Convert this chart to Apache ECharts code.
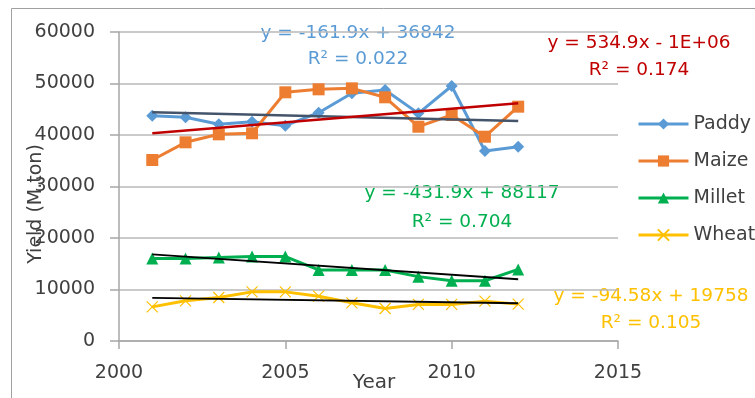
<!DOCTYPE html>
<html>
<head>
<meta charset="utf-8">
<script src="https://cdn.jsdelivr.net/npm/echarts@6/dist/echarts.min.js"></script>
<style>html,body{margin:0;padding:0;background:#fff;overflow:hidden}#c{width:755px;height:398px}</style>
</head>
<body>
<div id="c"></div>
<script>
const years = [2001, 2002, 2003, 2004, 2005, 2006, 2007, 2008, 2009, 2010, 2011, 2012];
const paddy = [43750, 43430, 42070, 42580, 41810, 44330, 48100, 48740, 44200, 49510, 36890, 37730];
const maize = [35150, 38580, 40130, 40330, 48290, 48870, 49060, 47320, 41610, 43880, 39670, 45500];
const millet = [16000, 16000, 16200, 16400, 16400, 13800, 13800, 13800, 12500, 11700, 11700, 13900];
const wheat = [6630, 7800, 8450, 9540, 9540, 8700, 7410, 6320, 7100, 7100, 7740, 7160];
const trendYears = [2001, 2012];
const paddyTrend = [44400, 42720];
const maizeTrend = [40330, 46150];
const milletTrend = [16830, 11990];
const wheatTrend = [8380, 7330];
const seriesNames = ['Paddy', 'Maize', 'Millet', 'Wheat'];
const eqPaddy = ['y = -161.9x + 36842', 'R² = 0.022'];
const eqMaize = ['y = 534.9x - 1E+06', 'R² = 0.174'];
const eqMillet = ['y = -431.9x + 88117', 'R² = 0.704'];
const eqWheat = ['y = -94.58x + 19758', 'R² = 0.105'];

const FONT = 'DejaVu Sans';
const pair = (xs, ys) => xs.map((x, i) => [x, ys[i]]);
const colors = { Paddy: '#5B9BD5', Maize: '#ED7D31', Millet: '#00B050', Wheat: '#FFC000' };

function dataSeries(name, vals, symbol, size) {
  return {
    name, type: 'line', data: pair(years, vals), symbol, symbolSize: size,
    lineStyle: { color: colors[name], width: 3 },
    itemStyle: { color: colors[name], borderColor: colors[name], borderWidth: name === 'Wheat' ? 1.2 : 0 },
    z: 2
  };
}
function trendSeries(vals, color, width) {
  return {
    type: 'line', data: pair(trendYears, vals), symbol: 'none', silent: true,
    lineStyle: { color, width }, z: 3
  };
}
function txt(t, x, y, color, size, rot) {
  return {
    type: 'text', x, y, rotation: rot || 0, silent: true,
    style: { text: t, fill: color, fontFamily: FONT, fontSize: size, align: 'center', verticalAlign: 'middle' }
  };
}
function eqText(lines, cx, y1, y2, color) {
  return [txt(lines[0], cx, y1, color, 18.5), txt(lines[1], cx, y2, color, 18.5)];
}

const chart = echarts.init(document.getElementById('c'), null, { renderer: 'canvas' });
chart.setOption({
  animation: false,
  backgroundColor: '#fff',
  grid: { left: 119, right: 137, top: 32, bottom: 57 },
  xAxis: {
    type: 'value', min: 2000, max: 2015, interval: 5,
    axisLine: { show: true, lineStyle: { color: '#A6A6A6', width: 1.5 } },
    axisTick: { show: true, length: 8, lineStyle: { color: '#A6A6A6', width: 1.5 } },
    axisLabel: { color: '#404040', fontFamily: FONT, fontSize: 19, margin: 23, formatter: v => String(v) },
    splitLine: { show: false }
  },
  yAxis: {
    type: 'value', min: 0, max: 60000, interval: 10000,
    axisLine: { show: true, lineStyle: { color: '#A6A6A6', width: 1.5 } },
    axisTick: { show: true, length: 9, lineStyle: { color: '#A6A6A6', width: 1.5 } },
    axisLabel: { color: '#404040', fontFamily: FONT, fontSize: 19, margin: 24, formatter: v => String(v) },
    splitLine: { show: true, lineStyle: { color: '#B8B8B8', width: 1.5 } }
  },
  legend: {
    data: seriesNames, orient: 'vertical', left: 632, top: 109,
    itemWidth: 50, itemHeight: 14, itemGap: 17,
    lineStyle: { width: 3 },
    textStyle: { color: '#404040', fontFamily: FONT, fontSize: 19, lineHeight: 20 }
  },
  series: [
    dataSeries('Paddy', paddy, 'diamond', 12),
    dataSeries('Maize', maize, 'rect', 12),
    dataSeries('Millet', millet, 'triangle', 12),
    dataSeries('Wheat', wheat, 'path://M0,0L10,10M10,0L0,10', 11),
    trendSeries(paddyTrend, '#44546A', 2.5),
    trendSeries(maizeTrend, '#C00000', 2.5),
    trendSeries(milletTrend, '#000000', 1.8),
    trendSeries(wheatTrend, '#000000', 1.8)
  ],
  graphic: [
    { type: 'polyline', shape: { points: [[11.5, 420], [11.5, 8.5], [760, 8.5]] }, style: { fill: null, stroke: '#A0A0A0', lineWidth: 1 }, silent: true, z: -1 },
    ...eqText(eqPaddy, 358, 33, 59, '#5B9BD5'),
    ...eqText(eqMaize, 639, 43, 70, '#C00000'),
    ...eqText(eqMillet, 462, 193, 222, '#00B050'),
    ...eqText(eqWheat, 651, 296, 323, '#FFC000'),
    txt('Year', 374, 383, '#404040', 20),
    txt('Yield (M.ton)', 36, 204, '#404040', 19, Math.PI / 2)
  ]
});
</script>
</body>
</html>
